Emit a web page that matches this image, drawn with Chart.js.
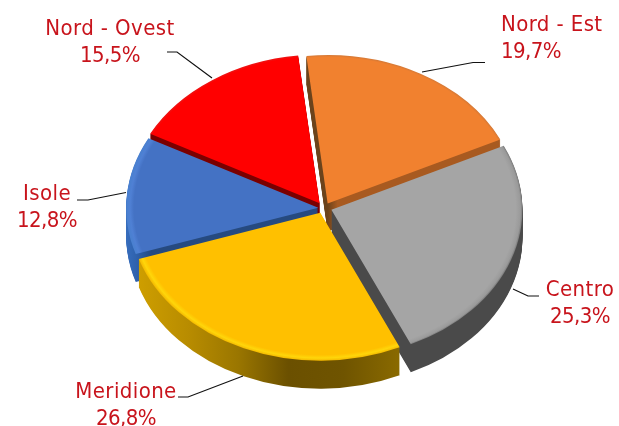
<!DOCTYPE html>
<html lang="it">
<head>
    <meta charset="UTF-8">
    <title>Ripartizione</title>
    <script src="https://cdn.jsdelivr.net/npm/chart.js"></script>
    <style>
        body { margin: 0; padding: 0; background: white; }
        canvas { display: block; }
    </style>
</head>
<body>
    <canvas id="pie" width="619" height="426"></canvas>

    <script>
        // clockwise from the top, starting with Nord - Est
        const categories = ["Nord - Est", "Centro", "Meridione", "Isole", "Nord - Ovest"];
        const shares = [19.7, 25.3, 26.8, 12.8, 15.5];

        const topColors = ["#f1812f", "#a5a5a5", "#ffc000", "#4472c4", "#ff0000"];
        const explode = [30, 40, 32, 15, 17];
        // small extra shift per slice, the original slices are not quite radial
        const nudgeX = [2, 0, 1.5, 0, 0];
        const nudgeY = [1.5, 0, 0, 1, -1];
        // back slices first so the front ones cover their walls
        const paintOrder = [0, 4, 3, 1, 2];

        const squash = 0.775;
        const depth = 28;

        // radial stops for the bevel on the top face
        const bevels = [
            [[0.988, "#f1812f"], [1, "#d87a36"]],
            [[0.965, "#a5a5a5"], [0.99, "#9a9a9a"], [1, "#7a7a7a"]],
            [[0.96, "#ffc000"], [0.982, "#ffd60a"], [1, "#f4b800"]],
            [[0.965, "#4472c4"], [0.985, "#4f80d4"], [1, "#4a80d0"]],
            [[0.99, "#ff0000"], [1, "#f01010"]]
        ];
        // horizontal stops (page x) for the side walls
        const walls = [
            [[306, "#6b431c"], [322, "#6b431c"], [332, "#a85a20"], [510, "#a85a20"]],
            [[320, "#4a4a4a"], [530, "#4a4a4a"]],
            [[135, "#d0a000"], [190, "#b88c00"], [240, "#9a7600"], [290, "#6b5000"], [345, "#6f5400"], [402, "#8a6a00"]],
            [[125, "#3a72c4"], [140, "#2f62ae"], [155, "#264a80"], [320, "#264a80"]],
            [[140, "#7a0000"], [320, "#7a0000"]]
        ];

        const labels = [
            { x: 501, y: 31, align: "left", line: [[422, 72], [473, 62.5], [485, 62.5]] },
            { x: 580, y: 296, align: "center", line: [[513, 289], [528, 296], [539, 296]] },
            { x: 126, y: 398, align: "center", line: [[243, 376], [188, 397], [178, 397]] },
            { x: 47, y: 200, align: "center", line: [[126, 192.5], [88, 200], [77, 200]] },
            { x: 110, y: 35, align: "center", line: [[212, 78], [177, 52], [167, 52]] }
        ];

        function linearFill(ctx, stops) {
            const g = ctx.createLinearGradient(stops[0][0], 0, stops[stops.length - 1][0], 0);
            const span = stops[stops.length - 1][0] - stops[0][0];
            stops.forEach(s => g.addColorStop((s[0] - stops[0][0]) / span, s[1]));
            return g;
        }

        function radialFill(ctx, el, stops) {
            const g = ctx.createRadialGradient(el.x, el.y, 0, el.x, el.y, el.outerRadius);
            g.addColorStop(0, stops[0][1]);
            stops.forEach(s => g.addColorStop(s[0], s[1]));
            return g;
        }

        // same arc element, other fill
        function drawArc(ctx, el, i, fill, dy) {
            const ghost = Object.create(el);
            ghost.options = Object.assign({}, el.options, { backgroundColor: fill, borderWidth: 0 });
            ctx.save();
            ctx.translate(nudgeX[i], nudgeY[i] + dy);
            ctx.translate(el.x, el.y);
            ctx.scale(1, squash);
            ctx.translate(-el.x, -el.y);
            ghost.draw(ctx);
            ctx.restore();
        }

        const tiltedPie = {
            id: "tiltedPie",
            beforeDatasetDraw(chart, args) {
                const ctx = chart.ctx;
                const arcs = args.meta.data;
                paintOrder.forEach(i => {
                    const wall = linearFill(ctx, walls[i]);
                    for (let d = depth; d > 0; d--) {
                        drawArc(ctx, arcs[i], i, wall, d);
                    }
                    drawArc(ctx, arcs[i], i, radialFill(ctx, arcs[i], bevels[i]), 0);
                });
                return false;
            },
            afterDraw(chart) {
                const ctx = chart.ctx;
                ctx.save();
                ctx.font = "22px 'DejaVu Sans Condensed', 'DejaVu Sans'";
                ctx.fillStyle = "#c8141c";
                ctx.textBaseline = "alphabetic";
                labels.forEach((lab, i) => {
                    ctx.textAlign = lab.align;
                    ctx.letterSpacing = "0.4px";
                    ctx.fillText(categories[i], lab.x, lab.y);
                    ctx.letterSpacing = "-0.6px";
                    ctx.fillText(shares[i].toFixed(1).replace(".", ",") + "%", lab.x, lab.y + 27);
                    ctx.beginPath();
                    lab.line.forEach((p, k) => k ? ctx.lineTo(p[0], p[1]) : ctx.moveTo(p[0], p[1]));
                    ctx.strokeStyle = "#111111";
                    ctx.lineWidth = 1.2;
                    ctx.stroke();
                });
                ctx.restore();
            }
        };

        new Chart(document.getElementById("pie"), {
            type: "pie",
            data: {
                labels: categories,
                datasets: [{
                    data: shares,
                    backgroundColor: topColors,
                    offset: explode,
                    borderWidth: 0
                }]
            },
            options: {
                responsive: false,
                animation: false,
                rotation: -6.4,
                radius: 191,
                layout: { padding: { left: 25, right: 0, top: 0, bottom: 12 } },
                plugins: { legend: { display: false }, tooltip: { enabled: false } }
            },
            plugins: [tiltedPie]
        });
    </script>
</body>
</html>
